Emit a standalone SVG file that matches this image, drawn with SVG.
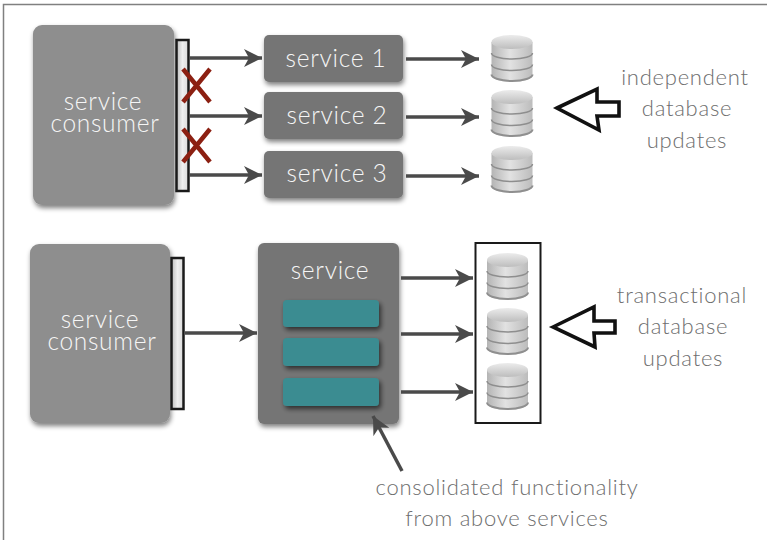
<svg xmlns="http://www.w3.org/2000/svg" width="767" height="540" viewBox="0 0 767 540">
<style>
text{font-family:"Lato","Open Sans",sans-serif;text-anchor:middle;font-weight:300}
.w{fill:#f6f6f6;font-size:24.500px;letter-spacing:.7px}
.g{fill:#6e6e6e;font-size:22px;letter-spacing:.75px}
.c{fill:#8e8e8e;filter:url(#sh)}
.s{fill:#757575;filter:url(#sh)}
.t{fill:#3a8c91;filter:url(#sh2)}
.bar{fill:url(#barf);stroke:#1a1a1a;stroke-width:2.5}
.l{stroke:#4a4a4a;stroke-width:3.500;fill:none;marker-end:url(#a)}
.x{stroke:#8c2012;stroke-width:4.500;fill:none}
.h{fill:#fff;stroke:#111;stroke-width:3.600;stroke-linejoin:miter}
</style>
<defs>
<filter id="sh" x="-15%" y="-15%" width="130%" height="130%"><feGaussianBlur in="SourceAlpha" stdDeviation="2.5"/><feOffset dx="1" dy="3"/><feComponentTransfer><feFuncA type="linear" slope=".5"/></feComponentTransfer><feMerge><feMergeNode/><feMergeNode in="SourceGraphic"/></feMerge></filter>
<filter id="sh2" x="-15%" y="-30%" width="130%" height="170%"><feGaussianBlur in="SourceAlpha" stdDeviation="2.5"/><feOffset dx="2" dy="3"/><feComponentTransfer><feFuncA type="linear" slope=".6"/></feComponentTransfer><feMerge><feMergeNode/><feMergeNode in="SourceGraphic"/></feMerge></filter>
<marker id="a" markerUnits="userSpaceOnUse" markerWidth="22" markerHeight="20" refX="18" refY="9" orient="auto"><path d="M0 0L18 9L0 18L5 9Z" fill="#4a4a4a"/></marker>
<linearGradient id="barf" x1="0" x2="1" y1="0" y2="0"><stop offset="0" stop-color="#bdbdbd"/><stop offset=".5" stop-color="#efefef"/><stop offset="1" stop-color="#dadada"/></linearGradient>
<linearGradient id="b" x1="0" x2="1" y1="0" y2="0"><stop offset="0" stop-color="#b4b4b4"/><stop offset=".45" stop-color="#e2e2e2"/><stop offset="1" stop-color="#bcbcbc"/></linearGradient>
<linearGradient id="tp" x1="0" x2="0" y1="0" y2="1"><stop offset="0" stop-color="#ececec"/><stop offset="1" stop-color="#bdbdbd"/></linearGradient>
<symbol id="db" width="41" height="47" overflow="visible">
<path d="M0 7V40C0 44 9 47 20.500 47S41 44 41 40V7Z" fill="url(#b)"/>
<path d="M0 39.500C0 43 9 46 20.500 46S41 43 41 39.500" fill="none" stroke="#8f8f8f" stroke-width="2"/>
<path d="M0 18C0 21.500 9 24 20.500 24S41 21.500 41 18M0 29.500C0 33 9 35.500 20.500 35.500S41 33 41 29.500" fill="none" stroke="#8e8e8e" stroke-width="1.500"/>
<ellipse cx="20.500" cy="7" rx="20.500" ry="7" fill="url(#tp)"/>
</symbol>
</defs>
<rect width="767" height="540" fill="#fff"/>
<path d="M3.500 540V4.500H767" fill="none" stroke="#808080" stroke-width="1.500"/>

<g id="consumer-top"><rect class="c" x="33" y="25" width="141" height="180" rx="9"/><text class="w" y="110"><tspan x="103">service</tspan><tspan x="105" dy="21.500">consumer</tspan></text></g>
<g id="interface-top"><rect class="bar" x="176.500" y="40" width="12" height="151"/></g>
<g id="service-1"><rect class="s" x="264" y="35" width="139" height="47" rx="5"/><text class="w" x="336" y="67">service 1</text></g>
<g id="service-2"><rect class="s" x="264" y="92" width="139" height="47" rx="5"/><text class="w" x="337" y="124">service 2</text></g>
<g id="service-3"><rect class="s" x="264" y="151" width="139" height="47" rx="5"/><text class="w" x="337" y="182">service 3</text></g>
<g id="db-1"><use href="#db" x="491.500" y="35"/></g>
<g id="db-2"><use href="#db" x="491.500" y="90"/></g>
<g id="db-3"><use href="#db" x="491.500" y="146"/></g>
<g id="note-top"><path class="h" d="M557 108L597 89L597 102L619 102L619 116L597 116L599 130Z"/><text class="g" x="685" y="85">independent</text><text class="g" x="687" y="116">database</text><text class="g" x="687" y="148">updates</text></g>

<g id="consumer-bottom"><rect class="c" x="30" y="244" width="140" height="179" rx="9"/><text class="w" y="328"><tspan x="100">service</tspan><tspan x="102" dy="21.500">consumer</tspan></text></g>
<g id="interface-bottom"><rect class="bar" x="171.500" y="258" width="12" height="151"/></g>
<g id="service-main"><rect class="s" x="258" y="243" width="141" height="181" rx="6"/><text class="w" x="330" y="279">service</text>
<rect class="t" x="283" y="300" width="96" height="27" rx="4"/><rect class="t" x="283" y="338" width="96" height="28" rx="4"/><rect class="t" x="283" y="378" width="96" height="28" rx="4"/></g>
<g id="db-group"><rect x="475.500" y="243" width="65" height="180" fill="#fff" stroke="#1a1a1a" stroke-width="2"/><use href="#db" x="487" y="253"/><use href="#db" x="487" y="308"/><use href="#db" x="487" y="363"/></g>
<g id="note-bottom"><path class="h" d="M553 327L594 307L594 321L615 321L615 333L594 333L595 347Z"/><text class="g" x="682" y="303">transactional</text><text class="g" x="683" y="334">database</text><text class="g" x="683" y="366">updates</text></g>
<g id="note-consolidated"><text class="g" x="507" y="495">consolidated functionality</text><text class="g" x="507" y="526">from above services</text></g>

<g id="connectors">
<path class="l" d="M189 58H262"/><path class="l" d="M189 116H262"/><path class="l" d="M189 175H262"/>
<path class="l" d="M406 59H479"/><path class="l" d="M406 117H479"/><path class="l" d="M406 176H479"/>
<path class="l" d="M185 333H257"/>
<path class="l" d="M401 278H473"/><path class="l" d="M401 334H473"/><path class="l" d="M401 392H473"/>
<path class="l" d="M402 471L373 416"/>
</g>
<g id="marks"><path class="x" d="M183 69L210 102M210 69L183 102"/><path class="x" d="M183 129L210 162M210 129L183 162"/></g>
</svg>
